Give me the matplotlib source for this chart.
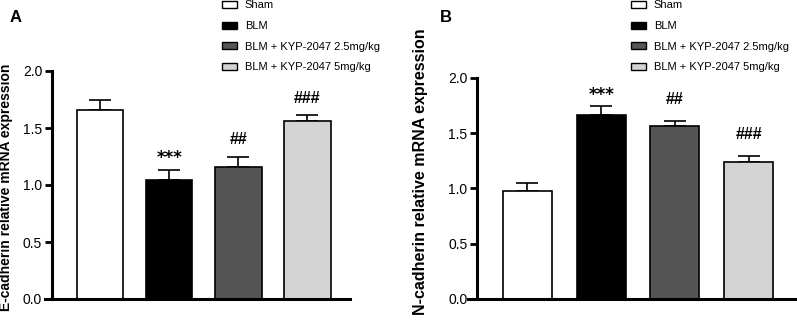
import numpy as np
import matplotlib
matplotlib.use("Agg")
import matplotlib.pyplot as plt

plt.rcParams['font.family'] = ['Liberation Sans', 'DejaVu Sans']

groups = ["Sham", "BLM", "BLM + KYP-2047 2.5mg/kg", "BLM + KYP-2047 5mg/kg"]
colors = ["#ffffff", "#000000", "#555555", "#d4d4d4"]

ecad_mean = [1.66, 1.04, 1.16, 1.56]
ecad_err = [0.09, 0.09, 0.09, 0.05]
ecad_marks = ["", "***", "##", "###"]

ncad_mean = [0.98, 1.66, 1.56, 1.24]
ncad_err = [0.07, 0.08, 0.05, 0.05]
ncad_marks = ["", "***", "##", "###"]

fig = plt.figure(figsize=(7.97, 3.2), dpi=100)


def panel(rect, means, errs, marks, ylabel, label_size, xlim, spine_x, width, leg_anchor, hash_off):
    ax = fig.add_axes(rect)
    x = np.arange(len(means))
    bars = ax.bar(x, means, width=width, color=colors, edgecolor="black", linewidth=1.2, zorder=2)
    for xi, m, e in zip(x, means, errs):
        ax.errorbar(xi, m, yerr=[[0], [e]], fmt="none", ecolor="black",
                    elinewidth=1.2, capsize=8, capthick=1.2, zorder=1)
    for xi, m, e, s in zip(x, means, errs, marks):
        if not s:
            continue
        if s.startswith("*"):
            ax.annotate(s, (xi, m + e), xytext=(0, 2), textcoords="offset points",
                        ha="center", va="bottom", fontsize=12, fontweight="bold",
                        family="DejaVu Sans")
        else:
            ax.annotate(s, (xi, m + e), xytext=(0, hash_off), textcoords="offset points",
                        ha="center", va="bottom", fontsize=11.5, fontweight="bold")
    ax.set_xlim(*xlim)
    ax.set_ylim(0, 2.0)
    ax.set_yticks([0, 0.5, 1.0, 1.5, 2.0])
    ax.set_yticklabels(["0.0", "0.5", "1.0", "1.5", "2.0"], fontsize=11, fontweight="bold")
    ax.set_xticks([])
    ax.spines["top"].set_visible(False)
    ax.spines["right"].set_visible(False)
    ax.spines["left"].set_position(("data", spine_x))
    ax.spines["left"].set_linewidth(2.2)
    ax.spines["bottom"].set_linewidth(2.2)
    ax.tick_params(axis="y", length=5, width=2.0, pad=2)
    ax.set_ylabel(ylabel, fontsize=label_size, fontweight="bold")
    ax.patch.set_alpha(0)
    leg = fig.legend(bars, groups, loc="upper left", bbox_to_anchor=leg_anchor,
                     frameon=False, fontsize=8, handlelength=1.35, handleheight=0.6,
                     handletextpad=0.7, labelspacing=0.95, borderaxespad=0, borderpad=0)
    for h in leg.legend_handles:
        h.set_linewidth(1.0)
    return ax


axA = panel([45 / 797, 1 - 299 / 320, 305 / 797, 228 / 320], ecad_mean, ecad_err, ecad_marks,
            "E-cadherin relative mRNA expression", 10, (-0.804, 3.616), -0.703, 0.667,
            (222 / 797, 1 - 0.5 / 320), 7)
axA.yaxis.set_label_coords(-0.105, 0.49)

axB = panel([468 / 797, 1 - 299 / 320, 329 / 797, 221.3 / 320], ncad_mean, ncad_err, ncad_marks,
            "N-cadherin relative mRNA expression", 11.5, (-0.807, 3.657), -0.685, 0.665,
            (631 / 797, 1 - 0.5 / 320), 10)
axB.yaxis.set_label_coords(-0.122, 0.574)

fig.text(10 / 797, 1 - 17 / 320, "A", fontsize=12, fontweight="bold", va="center")
fig.text(440 / 797, 1 - 17 / 320, "B", fontsize=12, fontweight="bold", va="center")

fig.savefig("out.png", dpi=100)
